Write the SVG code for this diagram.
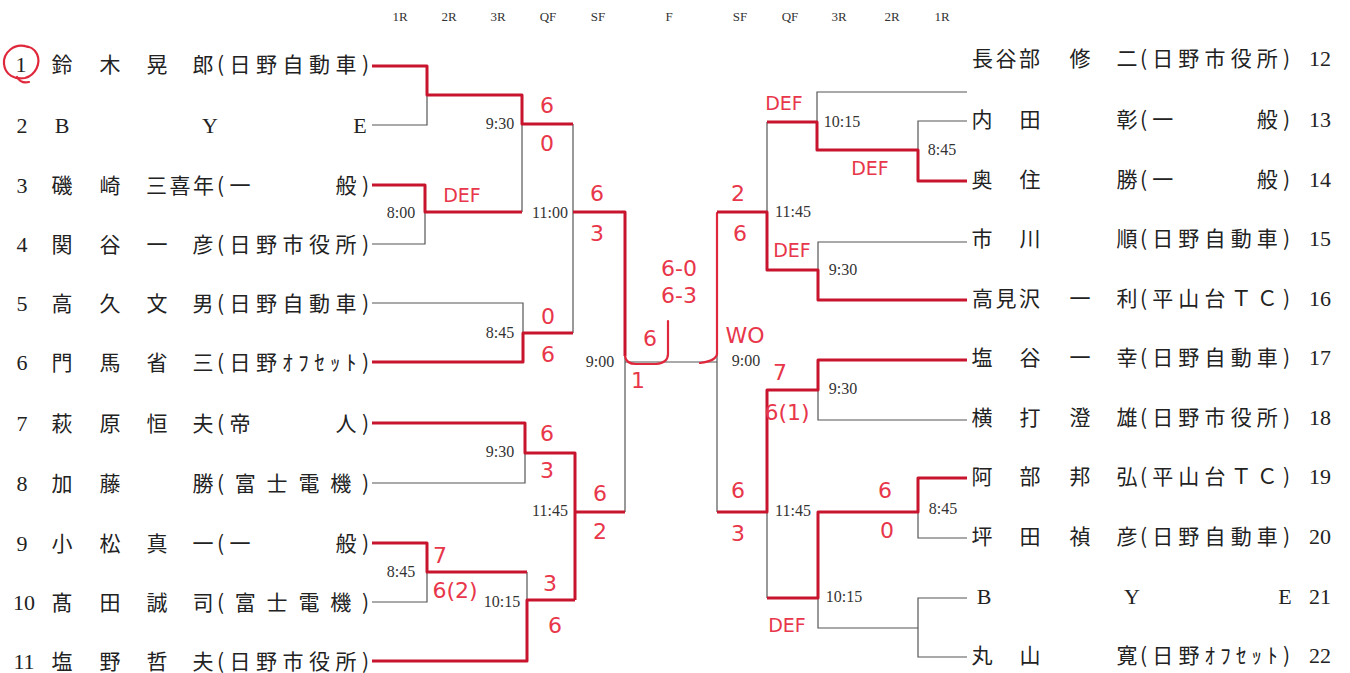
<svg xmlns="http://www.w3.org/2000/svg" width="1350" height="673" viewBox="0 0 1350 673">
<style>
.bg{fill:#ffffff}
.k{fill:none;stroke:#555;stroke-width:1.2}
.r{fill:none;stroke:#c8142c;stroke-width:3;stroke-linejoin:round}
.h{fill:none;stroke:#e0283c;stroke-width:2.2;stroke-linecap:round;stroke-linejoin:round}
.n{font-family:"Noto Sans CJK JP","Noto Sans CJK SC",sans-serif;font-size:21px;fill:#222;text-anchor:middle}
.a{font-family:"Noto Sans CJK JP","Noto Sans CJK SC",sans-serif;font-size:21px;fill:#222}
.d{font-family:"Liberation Serif",serif;font-size:22px;fill:#222;text-anchor:middle}
.t{font-family:"Liberation Serif",serif;font-size:16px;fill:#333;text-anchor:middle}
.hd{font-family:"Liberation Serif",serif;font-size:13px;fill:#333;text-anchor:middle}
.s{font-family:"DejaVu Sans","Liberation Sans",sans-serif;font-size:22px;fill:#e8364a;text-anchor:middle}
.df{font-family:"DejaVu Sans","Liberation Sans",sans-serif;font-size:19px;fill:#e8364a;text-anchor:middle}
</style>
<rect class="bg" x="0" y="0" width="1350" height="673"/>

<g id="headers">
<text class="hd" x="400" y="21">1R</text>
<text class="hd" x="449" y="21">2R</text>
<text class="hd" x="498" y="21">3R</text>
<text class="hd" x="548" y="21">QF</text>
<text class="hd" x="598" y="21">SF</text>
<text class="hd" x="669" y="21">F</text>
<text class="hd" x="740" y="21">SF</text>
<text class="hd" x="790" y="21">QF</text>
<text class="hd" x="839" y="21">3R</text>
<text class="hd" x="892" y="21">2R</text>
<text class="hd" x="942" y="21">1R</text>
</g>

<g id="connectors">
<path class="k" d="M372,125 H427 V95"/>
<path class="k" d="M372,244 H425 V212"/>
<path class="k" d="M522,124 V212"/>
<path class="k" d="M573,124 V333"/>
<path class="k" d="M372,303 H523 V333"/>
<path class="k" d="M372,483 H525 V453"/>
<path class="k" d="M372,602 H427 V572"/>
<path class="k" d="M527,572 V600"/>
<path class="k" d="M625,357 V512"/>
<path class="k" d="M625,362 H717"/>
<path class="k" d="M717,213 V512"/>
<path class="r" d="M372,66 H427 V95 H522 V124 H573"/>
<path class="r" d="M372,185 H425 V212 H522"/>
<path class="r" d="M573,212 H625 V356"/>
<path class="r" d="M372,362 H523 V333 H573"/>
<path class="r" d="M372,423 H525 V453 H575 V600"/>
<path class="r" d="M575,512 H625"/>
<path class="r" d="M372,543 H427 V572 H527"/>
<path class="r" d="M372,661 H527 V600 H575"/>
<path class="h" d="M625,356 Q626,364 636,364 L656,364 Q668,363 668,354 V321"/>
<path class="h" d="M717,213 V354 Q716,361 700,363"/>
<path class="k" d="M967,92 H817 V122"/>
<path class="k" d="M967,121 H918 V150"/>
<path class="k" d="M767,122 V212"/>
<path class="k" d="M967,242 H818 V270"/>
<path class="k" d="M967,420 H818 V390"/>
<path class="k" d="M767,512 V598"/>
<path class="k" d="M967,538 H918 V512"/>
<path class="k" d="M967,598 H918 V657 H967"/>
<path class="k" d="M918,628 H818 V598"/>
<path class="r" d="M967,181 H918 V150 H817 V122 H767"/>
<path class="r" d="M967,300 H818 V270 H767 V212 H717"/>
<path class="r" d="M967,360 H818 V390 H767 V512 H717"/>
<path class="r" d="M967,478 H918 V512 H818 V598 H767"/>
</g>

<g id="p1">
<path class="h" d="M28,47 C14,42 3,53 4,64 C5,75 15,80 25,78 C36,75 41,63 37,54 C34,48 29,46 23,46"/>
<path class="h" d="M17,77 Q21,84 29,82"/>
<text class="d" x="21" y="72">1</text>
<text class="n" x="62" y="72">鈴</text><text class="n" x="110" y="72">木</text><text class="n" x="157" y="72">晃</text><text class="n" x="203" y="72">郎</text>
<text class="a" x="217" y="72" textLength="152">(日野自動車)</text>
</g>
<g id="p2">
<text class="d" x="22" y="133">2</text>
<text class="d" x="62" y="133">B</text><text class="d" x="210" y="133">Y</text><text class="d" x="360" y="133">E</text>
</g>
<g id="p3">
<text class="d" x="22" y="193">3</text>
<text class="n" x="62" y="193">磯</text><text class="n" x="110" y="193">崎</text>
<text class="a" x="146" y="193" textLength="68">三喜年</text>
<text class="a" x="217" y="193" textLength="152">(一　　　般)</text>
</g>
<g id="p4">
<text class="d" x="22" y="252">4</text>
<text class="n" x="62" y="252">関</text><text class="n" x="110" y="252">谷</text><text class="n" x="157" y="252">一</text><text class="n" x="203" y="252">彦</text>
<text class="a" x="217" y="252" textLength="152">(日野市役所)</text>
</g>
<g id="p5">
<text class="d" x="22" y="311">5</text>
<text class="n" x="62" y="311">高</text><text class="n" x="110" y="311">久</text><text class="n" x="157" y="311">文</text><text class="n" x="203" y="311">男</text>
<text class="a" x="217" y="311" textLength="152">(日野自動車)</text>
</g>
<g id="p6">
<text class="d" x="22" y="370">6</text>
<text class="n" x="62" y="370">門</text><text class="n" x="110" y="370">馬</text><text class="n" x="157" y="370">省</text><text class="n" x="203" y="370">三</text>
<text class="a" x="217" y="370" textLength="152">(日野ｵﾌｾｯﾄ)</text>
</g>
<g id="p7">
<text class="d" x="22" y="431">7</text>
<text class="n" x="62" y="431">萩</text><text class="n" x="110" y="431">原</text><text class="n" x="157" y="431">恒</text><text class="n" x="203" y="431">夫</text>
<text class="a" x="217" y="431" textLength="152">(帝　　　人)</text>
</g>
<g id="p8">
<text class="d" x="22" y="491">8</text>
<text class="n" x="62" y="491">加</text><text class="n" x="110" y="491">藤</text><text class="n" x="203" y="491">勝</text>
<text class="a" x="217" y="491" textLength="152">(富士電機)</text>
</g>
<g id="p9">
<text class="d" x="22" y="551">9</text>
<text class="n" x="62" y="551">小</text><text class="n" x="110" y="551">松</text><text class="n" x="157" y="551">真</text><text class="n" x="203" y="551">一</text>
<text class="a" x="217" y="551" textLength="152">(一　　　般)</text>
</g>
<g id="p10">
<text class="d" x="24" y="610">10</text>
<text class="n" x="62" y="610">髙</text><text class="n" x="110" y="610">田</text><text class="n" x="157" y="610">誠</text><text class="n" x="203" y="610">司</text>
<text class="a" x="217" y="610" textLength="152">(富士電機)</text>
</g>
<g id="p11">
<text class="d" x="24" y="669">11</text>
<text class="n" x="62" y="669">塩</text><text class="n" x="110" y="669">野</text><text class="n" x="157" y="669">哲</text><text class="n" x="203" y="669">夫</text>
<text class="a" x="217" y="669" textLength="152">(日野市役所)</text>
</g>

<g id="p12">
<text class="a" x="972" y="66" textLength="68">長谷部</text>
<text class="n" x="1080" y="66">修</text><text class="n" x="1127" y="66">二</text>
<text class="a" x="1140" y="66" textLength="150">(日野市役所)</text>
<text class="d" x="1320" y="66">12</text>
</g>
<g id="p13">
<text class="n" x="982" y="127">内</text><text class="n" x="1030" y="127">田</text><text class="n" x="1127" y="127">彰</text>
<text class="a" x="1140" y="127" textLength="150">(一　　　般)</text>
<text class="d" x="1320" y="127">13</text>
</g>
<g id="p14">
<text class="n" x="982" y="187">奥</text><text class="n" x="1030" y="187">住</text><text class="n" x="1127" y="187">勝</text>
<text class="a" x="1140" y="187" textLength="150">(一　　　般)</text>
<text class="d" x="1320" y="187">14</text>
</g>
<g id="p15">
<text class="n" x="982" y="246">市</text><text class="n" x="1030" y="246">川</text><text class="n" x="1127" y="246">順</text>
<text class="a" x="1140" y="246" textLength="150">(日野自動車)</text>
<text class="d" x="1320" y="246">15</text>
</g>
<g id="p16">
<text class="a" x="972" y="306" textLength="68">高見沢</text>
<text class="n" x="1080" y="306">一</text><text class="n" x="1127" y="306">利</text>
<text class="a" x="1140" y="306" textLength="150">(平山台ＴＣ)</text>
<text class="d" x="1320" y="306">16</text>
</g>
<g id="p17">
<text class="n" x="982" y="365">塩</text><text class="n" x="1030" y="365">谷</text><text class="n" x="1080" y="365">一</text><text class="n" x="1127" y="365">幸</text>
<text class="a" x="1140" y="365" textLength="150">(日野自動車)</text>
<text class="d" x="1320" y="365">17</text>
</g>
<g id="p18">
<text class="n" x="982" y="425">横</text><text class="n" x="1030" y="425">打</text><text class="n" x="1080" y="425">澄</text><text class="n" x="1127" y="425">雄</text>
<text class="a" x="1140" y="425" textLength="150">(日野市役所)</text>
<text class="d" x="1320" y="425">18</text>
</g>
<g id="p19">
<text class="n" x="982" y="484">阿</text><text class="n" x="1030" y="484">部</text><text class="n" x="1080" y="484">邦</text><text class="n" x="1127" y="484">弘</text>
<text class="a" x="1140" y="484" textLength="150">(平山台ＴＣ)</text>
<text class="d" x="1320" y="484">19</text>
</g>
<g id="p20">
<text class="n" x="982" y="544">坪</text><text class="n" x="1030" y="544">田</text><text class="n" x="1080" y="544">禎</text><text class="n" x="1127" y="544">彦</text>
<text class="a" x="1140" y="544" textLength="150">(日野自動車)</text>
<text class="d" x="1320" y="544">20</text>
</g>
<g id="p21">
<text class="d" x="984" y="604">B</text><text class="d" x="1132" y="604">Y</text><text class="d" x="1285" y="604">E</text>
<text class="d" x="1320" y="604">21</text>
</g>
<g id="p22">
<text class="n" x="982" y="663">丸</text><text class="n" x="1030" y="663">山</text><text class="n" x="1127" y="663">寛</text>
<text class="a" x="1140" y="663" textLength="150">(日野ｵﾌｾｯﾄ)</text>
<text class="d" x="1320" y="663">22</text>
</g>

<g id="m-l1"><text class="t" x="401" y="218">8:00</text><text class="df" x="462" y="202">DEF</text></g>
<g id="m-l2"><text class="t" x="500" y="129">9:30</text><text class="s" x="547" y="113">6</text><text class="s" x="547" y="151">0</text></g>
<g id="m-l3"><text class="t" x="500" y="338">8:45</text><text class="s" x="548" y="324">0</text><text class="s" x="548" y="362">6</text></g>
<g id="m-l4"><text class="t" x="550" y="218">11:00</text><text class="s" x="597" y="201">6</text><text class="s" x="597" y="241">3</text></g>
<g id="m-l5"><text class="t" x="500" y="457">9:30</text><text class="s" x="547" y="441">6</text><text class="s" x="547" y="478">3</text></g>
<g id="m-l6"><text class="t" x="401" y="577">8:45</text><text class="s" x="440" y="563">7</text><text class="s" x="455" y="598">6(2)</text></g>
<g id="m-l7"><text class="t" x="502" y="607">10:15</text><text class="s" x="550" y="591">3</text><text class="s" x="555" y="633">6</text></g>
<g id="m-l8"><text class="t" x="550" y="516">11:45</text><text class="s" x="600" y="501">6</text><text class="s" x="600" y="539">2</text></g>
<g id="m-l9"><text class="t" x="600" y="367">9:00</text></g>
<g id="m-final">
<text class="s" x="679" y="276">6-0</text><text class="s" x="679" y="303">6-3</text>
<text class="s" x="650" y="346">6</text><text class="s" x="638" y="388">1</text>
<text class="s" x="745" y="343">WO</text>
</g>
<g id="m-r1"><text class="t" x="942" y="155">8:45</text><text class="df" x="870" y="175">DEF</text></g>
<g id="m-r2"><text class="t" x="842" y="127">10:15</text><text class="df" x="784" y="110">DEF</text></g>
<g id="m-r3"><text class="t" x="843" y="275">9:30</text><text class="df" x="792" y="257">DEF</text></g>
<g id="m-r4"><text class="t" x="793" y="217">11:45</text><text class="s" x="738" y="201">2</text><text class="s" x="740" y="241">6</text></g>
<g id="m-r5"><text class="t" x="746" y="366">9:00</text></g>
<g id="m-r6"><text class="t" x="843" y="394">9:30</text><text class="s" x="780" y="380">7</text><text class="s" x="787" y="420">6(1)</text></g>
<g id="m-r7"><text class="t" x="943" y="514">8:45</text><text class="s" x="885" y="498">6</text><text class="s" x="887" y="538">0</text></g>
<g id="m-r8"><text class="t" x="844" y="602">10:15</text><text class="df" x="787" y="632">DEF</text></g>
<g id="m-r9"><text class="t" x="793" y="516">11:45</text><text class="s" x="738" y="498">6</text><text class="s" x="738" y="541">3</text></g>
</svg>
